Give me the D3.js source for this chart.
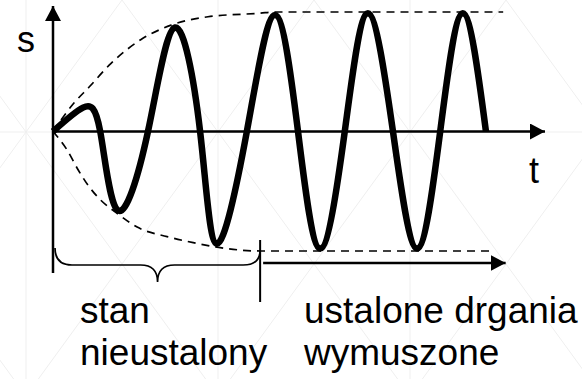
<!DOCTYPE html>
<html>
<head>
<meta charset="utf-8">
<script src="https://cdn.jsdelivr.net/npm/d3@7"></script>
<style>
  html, body { margin: 0; padding: 0; background: #fff; }
  text { font-family: "Liberation Sans", Arial, sans-serif; fill: #000; }
</style>
</head>
<body>
<div id="chart"></div>
<script>
// Forced oscillation: time (t) and displacement (s)
// extrema and zero crossings of the thick curve
const curveT = [0, 0.61, 0.96, 1.32, 1.93, 2.48, 2.99, 3.33, 3.94, 4.51, 4.98, 5.43, 5.93, 6.40, 6.91, 7.40, 7.87, 8.33, 8.80];
const curveS = [0, 0.20, 0, -0.66, 0, 0.87, 0, -0.94, 0, 0.975, 0, -0.98, 0, 0.99, 0, -0.98, 0, 0.99, 0];

// dashed envelope, upper branch
const upperT = [0, 0.43, 0.73, 1.18, 1.79, 2.40, 3.15, 4.21, 4.51, 9.15];
const upperS = [0, 0.24, 0.37, 0.57, 0.77, 0.89, 0.96, 0.99, 1.0, 1.0];

// dashed envelope, lower branch
const lowerT = [0, 0.28, 0.51, 0.73, 0.96, 1.32, 1.71, 2.32, 2.85, 3.37, 4.21, 8.90];
const lowerS = [0, -0.15, -0.32, -0.46, -0.57, -0.69, -0.80, -0.88, -0.93, -0.97, -1.0, -1.0];

// the two phases on the time axis
const transientEnd = 4.21;
const steadyEnd = 9.2;
const transientLabel = ["stan", "nieustalony"];
const steadyLabel = ["ustalone drgania", "wymuszone"];
const axisLabels = { s: "s", t: "t" };

const width = 582;
const height = 379;

const svg = d3
  .select("#chart")
  .append("svg")
  .attr("width", width)
  .attr("height", height);

// Faint background lattice (slide pattern)
const bg = svg.append("g").attr("stroke", "#efefef").attr("stroke-width", 1);
const cellW = 192;
const rowY = 132;
for (let i = -3; i <= 5; i++) {
  const x0 = 26 + cellW * i;
  bg.append("line").attr("x1", x0).attr("y1", 0).attr("x2", x0).attr("y2", height);
  [1, -1].forEach((dir) => {
    bg.append("line")
      .attr("x1", x0 - 96 * 4 * dir)
      .attr("y1", rowY - 132 * 4)
      .attr("x2", x0 + 96 * 4 * dir)
      .attr("y2", rowY + 132 * 4);
  });
}
bg.append("line").attr("x1", 0).attr("y1", rowY).attr("x2", width).attr("y2", rowY);

// Scales
const x = d3.scaleLinear().domain([0, 10]).range([53, 545]);
const y = d3.scaleLinear().domain([-1, 1]).range([251, 12]);

const x0 = x(0);
const y0 = y(0);

// Arrowhead markers
const defs = svg.append("defs");
defs
  .append("marker")
  .attr("id", "arrow")
  .attr("viewBox", "0 0 15 16")
  .attr("refX", 15)
  .attr("refY", 8)
  .attr("markerWidth", 15)
  .attr("markerHeight", 16)
  .attr("markerUnits", "userSpaceOnUse")
  .attr("orient", "auto")
  .append("path")
  .attr("d", "M0,0 L15,8 L0,16 Z")
  .attr("fill", "#000");

// Axes
svg.append("line")
  .attr("x1", x0).attr("y1", 273)
  .attr("x2", x0).attr("y2", 6)
  .attr("stroke", "#000").attr("stroke-width", 2.5)
  .attr("marker-end", "url(#arrow)");

svg.append("line")
  .attr("x1", x0).attr("y1", y0)
  .attr("x2", x(10)).attr("y2", y0)
  .attr("stroke", "#000").attr("stroke-width", 2.5)
  .attr("marker-end", "url(#arrow)");

svg.append("text").attr("x", 17).attr("y", 52).style("font-size", "36px").text(axisLabels.s);
svg.append("text").attr("x", 529).attr("y", 183).style("font-size", "36px").text(axisLabels.t);

// Dashed envelopes
const envLine = d3
  .line()
  .x((d) => x(d[0]))
  .y((d) => y(d[1]))
  .curve(d3.curveMonotoneX);

[
  d3.zip(upperT, upperS),
  d3.zip(lowerT, lowerS),
].forEach((pts) => {
  svg.append("path")
    .datum(pts)
    .attr("d", envLine)
    .attr("fill", "none")
    .attr("stroke", "#000")
    .attr("stroke-width", 1.7)
    .attr("stroke-dasharray", "8,6");
});

// Thick oscillation curve
const waveLine = d3
  .line()
  .x((d) => x(d[0]))
  .y((d) => y(d[1]))
  .curve(d3.curveNatural);

svg.append("path")
  .datum(d3.zip(curveT, curveS))
  .attr("d", waveLine)
  .attr("fill", "none")
  .attr("stroke", "#000")
  .attr("stroke-width", 6.5)
  .attr("stroke-linejoin", "round");

// Curly brace under the transient part
const bx1 = x(0) + 2;
const bx2 = x(transientEnd);
const bm = (bx1 + bx2) / 2;
const r = 17;
const braceTop = 248;
const braceMid = 265;
const braceTip = 282;
svg.append("path")
  .attr(
    "d",
    `M${bx1},${braceTop} Q${bx1},${braceMid} ${bx1 + r},${braceMid}` +
      ` L${bm - r},${braceMid} Q${bm},${braceMid} ${bm},${braceTip}` +
      ` Q${bm},${braceMid} ${bm + r},${braceMid}` +
      ` L${bx2 - r},${braceMid} Q${bx2},${braceMid} ${bx2},${braceTop + 2}`
  )
  .attr("fill", "none")
  .attr("stroke", "#000")
  .attr("stroke-width", 1.7);

// Separator between phases
svg.append("line")
  .attr("x1", x(transientEnd)).attr("y1", 240)
  .attr("x2", x(transientEnd)).attr("y2", 302)
  .attr("stroke", "#000").attr("stroke-width", 2);

// Arrow for the steady-state part
svg.append("line")
  .attr("x1", x(transientEnd) + 3).attr("y1", 263)
  .attr("x2", x(steadyEnd)).attr("y2", 263)
  .attr("stroke", "#000").attr("stroke-width", 2.5)
  .attr("marker-end", "url(#arrow)");

// Phase labels
function addLabel(lines, left) {
  const t = svg.append("text").attr("x", left).attr("y", 323).style("font-size", "37px");
  lines.forEach((s, i) => {
    t.append("tspan").attr("x", left).attr("dy", i === 0 ? 0 : 42).text(s);
  });
}
addLabel(transientLabel, 80);
addLabel(steadyLabel, 304);
</script>
</body>
</html>
